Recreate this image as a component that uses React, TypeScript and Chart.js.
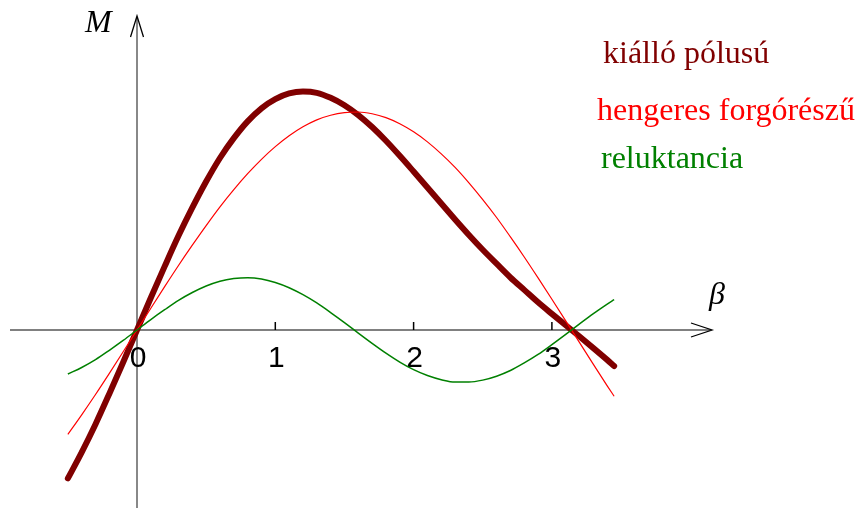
import React, { useEffect, useRef } from "react";
import { Chart, registerables } from "chart.js";

Chart.register(...registerables);

// Load angle β (rad)
const beta = [
  -0.5, -0.4, -0.3, -0.2, -0.1, 0, 0.1, 0.2, 0.3, 0.4, 0.5, 0.6, 0.7, 0.8, 0.9, 1.0,
  1.1, 1.2, 1.3, 1.4, 1.5, 1.6, 1.7, 1.8, 1.9, 2.0, 2.1, 2.2, 2.3, 2.4, 2.5, 2.6,
  2.7, 2.8, 2.9, 3.0, 3.1, 3.2, 3.3, 3.4, 3.45,
];

// Salient-pole machine torque (kiálló pólusú)
const salientTorque = [
  -0.681, -0.561, -0.432, -0.292, -0.148, 0, 0.148, 0.292, 0.432, 0.561, 0.681, 0.789,
  0.88, 0.957, 1.017, 1.059, 1.085, 1.094, 1.088, 1.065, 1.031, 0.986, 0.931, 0.868,
  0.799, 0.727, 0.654, 0.58, 0.507, 0.436, 0.368, 0.304, 0.241, 0.184, 0.127, 0.074,
  0.022, -0.03, -0.083, -0.137, -0.165,
];

// Cylindrical-rotor machine torque (hengeres forgórészű)
const cylindricalTorque = [
  -0.479, -0.389, -0.296, -0.199, -0.1, 0, 0.1, 0.199, 0.296, 0.389, 0.479, 0.565,
  0.644, 0.717, 0.783, 0.841, 0.891, 0.932, 0.964, 0.985, 0.997, 1.0, 0.992, 0.974,
  0.946, 0.909, 0.863, 0.808, 0.746, 0.675, 0.598, 0.516, 0.427, 0.335, 0.239, 0.141,
  0.042, -0.058, -0.158, -0.256, -0.304,
];

// Reluctance torque (reluktancia)
const reluctanceTorque = [
  -0.202, -0.172, -0.136, -0.093, -0.048, 0, 0.048, 0.093, 0.136, 0.172, 0.202, 0.224,
  0.236, 0.24, 0.234, 0.218, 0.194, 0.162, 0.124, 0.08, 0.034, -0.014, -0.061, -0.106,
  -0.147, -0.182, -0.209, -0.228, -0.239, -0.239, -0.23, -0.212, -0.186, -0.151,
  -0.112, -0.067, -0.02, 0.028, 0.075, 0.119, 0.139,
];

const xTicks = [0, 1, 2, 3];

const seriesNames = ["kiálló pólusú", "hengeres forgórészű", "reluktancia"];
const seriesColors = ["#800000", "#ff0000", "#008000"];

const W = 862;
const H = 508;

const toPoints = (ys: number[]) => beta.map((b, i) => ({ x: b, y: ys[i] }));

const axesPlugin = {
  id: "mathAxes",
  beforeDatasetsDraw(chart: any) {
    const { ctx } = chart;
    const xs = chart.scales.x;
    const ys = chart.scales.y;
    const x0 = xs.getPixelForValue(0);
    const y0 = ys.getPixelForValue(0);
    ctx.save();
    // horizontal axis
    ctx.strokeStyle = "#808080";
    ctx.lineWidth = 2;
    ctx.beginPath();
    ctx.moveTo(10, y0);
    ctx.lineTo(711, y0);
    ctx.stroke();
    // vertical axis
    ctx.strokeStyle = "#606060";
    ctx.lineWidth = 1.5;
    ctx.beginPath();
    ctx.moveTo(x0, 17);
    ctx.lineTo(x0, H);
    ctx.stroke();
    // arrow heads
    ctx.strokeStyle = "#000";
    ctx.lineWidth = 1.3;
    ctx.beginPath();
    ctx.moveTo(691, y0 - 7);
    ctx.lineTo(712, y0);
    ctx.lineTo(691, y0 + 7);
    ctx.moveTo(x0 - 6.5, 37);
    ctx.lineTo(x0, 16);
    ctx.lineTo(x0 + 6.5, 37);
    ctx.stroke();
    // ticks
    ctx.lineWidth = 1.5;
    ctx.strokeStyle = "#000";
    xTicks.forEach((t) => {
      if (t === 0) return;
      const px = xs.getPixelForValue(t);
      ctx.beginPath();
      ctx.moveTo(px, y0 - 8);
      ctx.lineTo(px, y0);
      ctx.stroke();
    });
    // tick labels
    ctx.fillStyle = "#000";
    ctx.font = '30px "Liberation Sans", Arial, sans-serif';
    ctx.textAlign = "center";
    ctx.textBaseline = "alphabetic";
    xTicks.forEach((t) => {
      const px = xs.getPixelForValue(t);
      ctx.fillText(String(t), px + 1, 367);
    });
    ctx.restore();
  },
  afterDatasetsDraw(chart: any) {
    const { ctx } = chart;
    ctx.save();
    ctx.textAlign = "left";
    ctx.textBaseline = "alphabetic";
    ctx.fillStyle = "#000";
    ctx.font = 'italic 32px "Liberation Serif", "Times New Roman", serif';
    ctx.fillText("M", 85, 32);
    ctx.fillText("β", 709, 304);
    ctx.font = '32px "Liberation Serif", "Times New Roman", serif';
    const lx = [603, 597, 601];
    const ly = [63, 120, 168];
    seriesNames.forEach((name, i) => {
      ctx.fillStyle = seriesColors[i];
      ctx.fillText(name, lx[i], ly[i]);
    });
    ctx.restore();
  },
};

export default function App() {
  const canvasRef = useRef<HTMLCanvasElement | null>(null);

  useEffect(() => {
    const canvas = canvasRef.current;
    if (!canvas) return;
    const pxPerUnitX = 138.3;
    const xMin = -137 / pxPerUnitX;
    const xMax = xMin + W / pxPerUnitX;
    const pxPerUnitY = 218;
    const yMax = 330 / pxPerUnitY;
    const yMin = yMax - H / pxPerUnitY;

    const chart = new Chart(canvas, {
      type: "line",
      data: {
        datasets: [
          {
            label: seriesNames[2],
            data: toPoints(reluctanceTorque),
            borderColor: seriesColors[2],
            borderWidth: 1.5,
            order: 0,
          },
          {
            label: seriesNames[1],
            data: toPoints(cylindricalTorque),
            borderColor: seriesColors[1],
            borderWidth: 1.2,
            order: 1,
          },
          {
            label: seriesNames[0],
            data: toPoints(salientTorque),
            borderColor: seriesColors[0],
            borderWidth: 6,
            borderCapStyle: "round",
            borderJoinStyle: "round",
            order: 2,
          },
        ],
      },
      options: {
        responsive: false,
        animation: false,
        devicePixelRatio: 1,
        layout: { padding: 0 },
        elements: {
          point: { radius: 0, hoverRadius: 0 },
          line: { cubicInterpolationMode: "monotone", fill: false },
        },
        scales: {
          x: { type: "linear", display: false, min: xMin, max: xMax },
          y: { type: "linear", display: false, min: yMin, max: yMax },
        },
        plugins: {
          legend: { display: false },
          tooltip: { enabled: false },
        },
        events: [],
      },
      plugins: [axesPlugin],
    });
    return () => chart.destroy();
  }, []);

  return (
    <div style={{ position: "absolute", left: 0, top: 0, width: W, height: H, background: "#fff" }}>
      <canvas ref={canvasRef} width={W} height={H} style={{ display: "block" }} />
    </div>
  );
}
